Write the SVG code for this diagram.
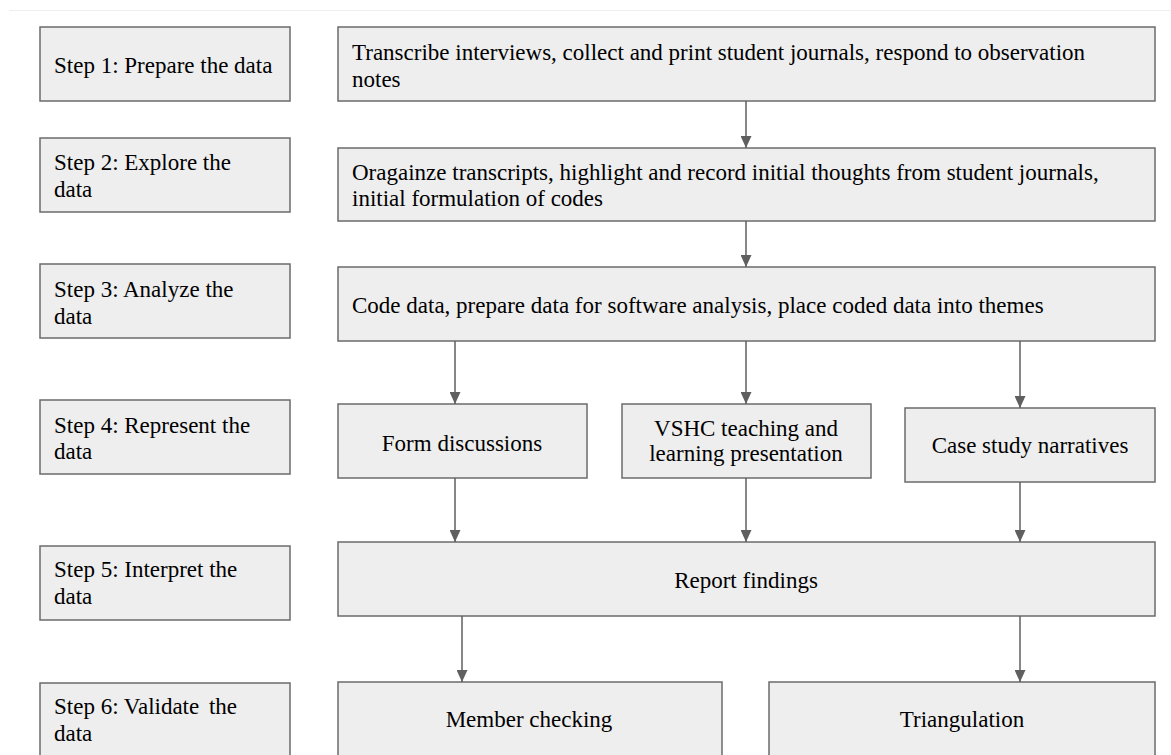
<svg xmlns="http://www.w3.org/2000/svg" width="1171" height="755" viewBox="0 0 1171 755">
<defs>
<style>
.box{fill:#eeeeee;stroke:#6b6b6b;stroke-width:1.5}
.t{font-family:"Liberation Serif","Times New Roman",serif;font-size:23px;fill:#000}
.c{text-anchor:middle}
.edge{stroke:#5f5f5f;stroke-width:1.5;fill:none;marker-end:url(#ah)}
</style>
<marker id="ah" markerWidth="12" markerHeight="11" refX="12" refY="5.5" orient="auto" markerUnits="userSpaceOnUse" viewBox="0 0 12 11">
<path d="M0,0 L12,5.5 L0,11 Z" fill="#5f5f5f"/>
</marker>
</defs>
<rect x="0" y="0" width="1171" height="755" fill="#ffffff"/>
<line x1="9" y1="10.5" x2="1171" y2="10.5" stroke="#eeeeee" stroke-width="1"/>

<g id="step1"><rect class="box" x="40" y="27" width="250" height="74"/><text class="t" x="54" y="73">Step 1: Prepare the data</text></g>
<g id="step2"><rect class="box" x="40" y="138" width="250" height="74"/><text class="t" x="54" y="170">Step 2: Explore the</text><text class="t" x="54" y="197">data</text></g>
<g id="step3"><rect class="box" x="40" y="264" width="250" height="74"/><text class="t" x="54" y="297">Step 3: Analyze the</text><text class="t" x="54" y="324">data</text></g>
<g id="step4"><rect class="box" x="40" y="400" width="250" height="74"/><text class="t" x="54" y="433">Step 4: Represent the</text><text class="t" x="54" y="459">data</text></g>
<g id="step5"><rect class="box" x="40" y="546" width="250" height="74"/><text class="t" x="54" y="577">Step 5: Interpret the</text><text class="t" x="54" y="604">data</text></g>
<g id="step6"><rect class="box" x="40" y="683" width="250" height="90"/><text class="t" x="54" y="714">Step 6: Validate <tspan dx="4">the</tspan></text><text class="t" x="54" y="741">data</text></g>

<g id="prepare"><rect class="box" x="338" y="27" width="817" height="74"/><text class="t" x="352" y="60">Transcribe interviews, collect and print student journals, respond to observation</text><text class="t" x="352" y="87">notes</text></g>
<g id="explore"><rect class="box" x="338" y="148" width="817" height="73"/><text class="t" x="352" y="180">Oragainze transcripts, highlight and record initial thoughts from student journals,</text><text class="t" x="352" y="206">initial formulation of codes</text></g>
<g id="analyze"><rect class="box" x="338" y="267" width="817" height="74"/><text class="t" x="352" y="313">Code data, prepare data for software analysis, place coded data into themes</text></g>
<g id="form"><rect class="box" x="338" y="404" width="249" height="74"/><text class="t c" x="462" y="451">Form discussions</text></g>
<g id="vshc"><rect class="box" x="622" y="404" width="249" height="74"/><text class="t c" x="746" y="436">VSHC teaching and</text><text class="t c" x="746" y="461">learning presentation</text></g>
<g id="case"><rect class="box" x="905" y="408" width="250" height="74"/><text class="t c" x="1030" y="453">Case study narratives</text></g>
<g id="report"><rect class="box" x="338" y="542" width="817" height="74"/><text class="t c" x="746" y="588">Report findings</text></g>
<g id="member"><rect class="box" x="338" y="682" width="384" height="90"/><text class="t c" x="529" y="727">Member checking</text></g>
<g id="triangulation"><rect class="box" x="769" y="682" width="386" height="90"/><text class="t c" x="962" y="727">Triangulation</text></g>

<g id="connectors">
<line class="edge" x1="746" y1="101" x2="746" y2="148"/>
<line class="edge" x1="746" y1="221" x2="746" y2="267"/>
<line class="edge" x1="455" y1="341" x2="455" y2="404"/>
<line class="edge" x1="746" y1="341" x2="746" y2="404"/>
<line class="edge" x1="1020" y1="341" x2="1020" y2="408"/>
<line class="edge" x1="455" y1="478" x2="455" y2="542"/>
<line class="edge" x1="746" y1="478" x2="746" y2="542"/>
<line class="edge" x1="1020" y1="482" x2="1020" y2="542"/>
<line class="edge" x1="462" y1="616" x2="462" y2="682"/>
<line class="edge" x1="1020" y1="616" x2="1020" y2="682"/>
</g>
</svg>
